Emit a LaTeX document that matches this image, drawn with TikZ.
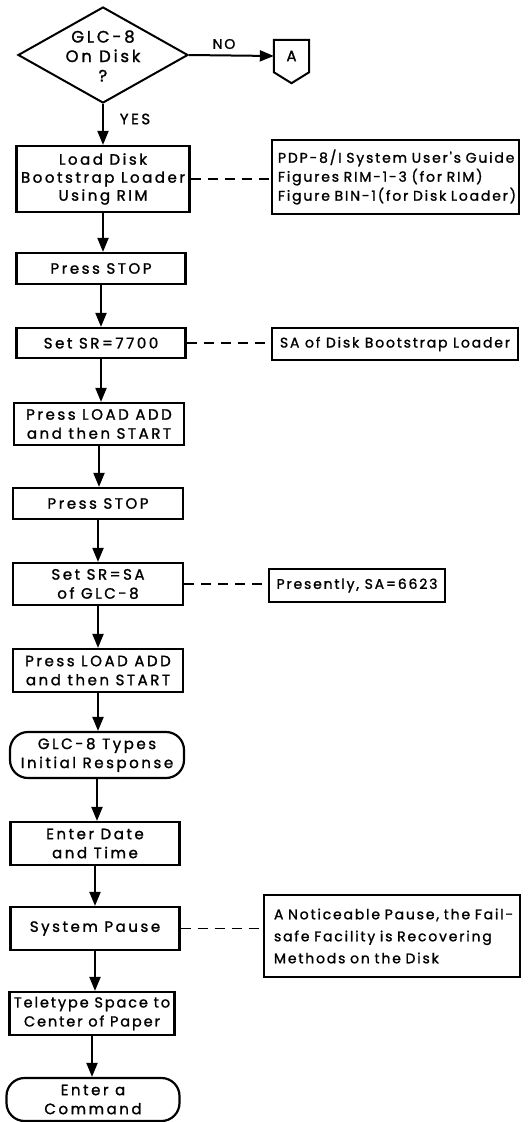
\documentclass[tikz,border=0pt]{standalone}
\usepackage{fontspec}
\newfontfamily\lerfont[LetterSpace=13,FakeBold=1.3]{Poppins}
\newfontfamily\boxfont[LetterSpace=17,FakeBold=1.4]{Poppins}
\usetikzlibrary{arrows.meta,shapes.geometric,calc}
\begin{document}
\begin{tikzpicture}[x=1pt,y=-1pt,
  every node/.style={font=\lerfont\fontsize{14}{19}\selectfont, inner sep=0pt},
  proc/.style={draw, line width=2.2pt, align=center, font=\boxfont\fontsize{15}{19}\selectfont},
  term/.style={draw, line width=2.2pt, rounded corners=18pt, align=center, font=\boxfont\fontsize{15}{19}\selectfont},
  note/.style={draw, line width=2.2pt, align=left},
  arr/.style={-{Triangle[length=14pt,width=11pt]}, line width=2pt},
  link/.style={line width=1.4pt, dash pattern=on 10pt off 7pt},
]
\useasboundingbox (0,0) rectangle (530,1122);
% decision
\node[draw, diamond, line width=2pt, minimum width=170pt, minimum height=96pt] (dec) at (103,55) {};
\node[align=center, font=\boxfont\fontsize{16.5}{19.5}\selectfont] (dect) at (103,56) {GLC-8\\On Disk\\?};
\node (no) at (224,44) {NO};
\node[font=\boxfont\fontsize{15}{19}\selectfont] (yes) at (135,119) {YES};
% connector A
\node[minimum width=35pt, minimum height=32pt, font=\boxfont\fontsize{15}{19}\selectfont] (A) at (291.5,56) {A};
\draw[line width=2pt] (A.north west) -- (A.north east) -- (A.south east) -- ($(A.south)+(0,11)$) -- (A.south west) -- cycle;
\draw[arr] (dec.east) -- (A.west);
% process boxes
\node[proc, minimum width=173pt, minimum height=66pt, font=\boxfont\fontsize{15}{18}\selectfont] (b1) at (103,179) {Load Disk\\Bootstrap Loader\\Using RIM};
\node[proc, minimum width=169pt, minimum height=31pt] (b2) at (101,268.5) {Press STOP};
\node[proc, minimum width=169pt, minimum height=30pt] (b3) at (101,343) {Set SR=7700};
\node[proc, minimum width=170pt, minimum height=42pt] (b4) at (99,424) {Press LOAD ADD\\and then START};
\node[proc, minimum width=170pt, minimum height=31pt] (b5) at (98,503.5) {Press STOP};
\node[proc, minimum width=170pt, minimum height=42pt] (b6) at (98,584) {Set SR=SA\\of GLC-8};
\node[proc, minimum width=170pt, minimum height=43pt] (b7) at (98,670.5) {Press LOAD ADD\\and then START};
\node[term, minimum width=174pt, minimum height=46pt] (t1) at (97,755) {GLC-8 Types\\Initial Response};
\node[proc, minimum width=169pt, minimum height=43pt] (b8) at (95,843.5) {Enter Date\\and Time};
\node[proc, minimum width=169pt, minimum height=43pt] (b9) at (95,928.5) {System Pause};
\node[proc, minimum width=165pt, minimum height=43pt, font=\lerfont\fontsize{14.5}{19}\selectfont] (b10) at (92,1013.5) {Teletype Space to\\Center of Paper};
\node[term, minimum width=173pt, minimum height=43pt] (t2) at (93,1099.5) {Enter a\\Command};
% notes
\node[note, text width=235pt, inner xsep=6pt, minimum height=74pt, font=\lerfont\fontsize{14}{19}\selectfont] (n1) at (395.5,177) {PDP-8/I System User's Guide\\Figures RIM-1-3 (for RIM)\\Figure BIN-1(for Disk Loader)};
\node[note, minimum width=246pt, minimum height=32pt, align=center] (n2) at (395,344) {SA of Disk Bootstrap Loader};
\node[note, minimum width=176pt, minimum height=33pt, align=center] (n3) at (357,585.5) {Presently, SA=6623};
\node[note, text width=236pt, inner xsep=10pt, minimum height=82pt, font=\lerfont\fontsize{14}{22}\selectfont] (n4) at (392,936) {A Noticeable Pause, the Fail-\\safe Facility is Recovering\\Methods on the Disk};
% flow arrows
\draw[arr] (dec.south) -- (dec.south |- b1.north);
\draw[arr] (b1.south) -- (b1.south |- b2.north);
\draw[arr] (b2.south) -- (b2.south |- b3.north);
\draw[arr] (b3.south) -- (b3.south |- b4.north);
\draw[arr] (b4.south) -- (b4.south |- b5.north);
\draw[arr] (b5.south) -- (b5.south |- b6.north);
\draw[arr] (b6.south) -- (b6.south |- b7.north);
\draw[arr] (b7.south) -- (b7.south |- t1.north);
\draw[arr] (t1.south) -- (t1.south |- b8.north);
\draw[arr] (b8.south) -- (b8.south |- b9.north);
\draw[arr] (b9.south) -- (b9.south |- b10.north);
\draw[arr] (b10.south) -- (b10.south |- t2.north);
% dashed links
\draw[link] (b1.east) -- (b1.east -| n1.west);
\draw[link] (b3.east) -- (b3.east -| n2.west);
\draw[link] (b6.east) -- (b6.east -| n3.west);
\draw[link] (b9.east) -- (b9.east -| n4.west);
\end{tikzpicture}
\end{document}
